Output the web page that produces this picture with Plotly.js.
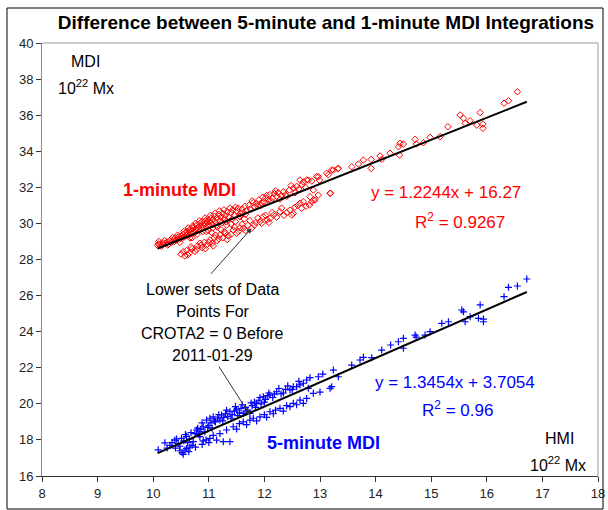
<!DOCTYPE html>
<html>
<head>
<meta charset="utf-8">
<script src="https://cdn.plot.ly/plotly-3.0.1.min.js"></script>
<style>html,body{margin:0;padding:0;background:#fff;}#chart{width:608px;height:510px;}</style>
</head>
<body>
<div id="chart"></div>
<script>
// ---- Data (HMI vs MDI, 10^22 Mx) ----
const oneMinHMI = [
10.09,10.08,10.12,10.15,10.18,10.22,10.25,10.28,10.30,10.33,10.36,10.38,10.40,10.42,10.45,10.47,10.50,10.52,10.54,10.56,
10.58,10.60,10.60,10.62,10.64,10.65,10.67,10.68,10.70,10.72,10.73,10.75,10.77,10.78,10.80,10.82,10.84,10.85,10.87,10.88,
10.90,10.92,10.94,10.95,10.97,10.98,11.00,11.02,11.04,11.06,11.08,11.10,11.12,11.15,11.18,11.20,11.22,11.25,11.28,11.30,
11.33,11.36,11.40,11.43,11.46,11.50,11.53,11.57,11.60,11.65,11.68,11.32,11.15,10.95,10.70,
10.10,10.20,10.26,10.35,10.44,10.48,10.55,10.63,10.66,10.71,10.76,10.79,10.83,10.89,10.93,10.99,11.03,11.07,11.11,11.14,
11.19,11.24,11.27,11.31,11.38,11.42,11.48,11.55,11.62,11.66,11.05,11.22,11.40,11.48,11.64,
11.72,11.75,11.80,11.82,11.86,11.90,11.93,11.97,12.00,12.04,12.07,12.10,12.14,12.18,12.22,12.25,12.30,12.34,12.38,12.45,
12.52,12.58,12.64,12.70,12.76,12.79,12.94,12.97,12.99,13.12,13.15,13.21,13.24,13.32,13.33,
11.78,11.88,11.95,12.02,12.12,12.20,12.28,12.40,12.48,12.55,12.62,12.68,12.74,12.85,
10.50,10.54,10.57,10.60,10.65,10.70,10.75,10.80,10.84,10.88,10.92,10.96,11.02,11.06,11.10,11.15,11.20,11.25,11.30,11.35,
11.44,11.50,11.56,11.56,11.62,11.70,11.77,11.85,11.92,11.98,12.05,12.10,12.18,12.28,12.35,12.46,12.49,12.55,12.64,12.67,
12.70,12.81,12.82,12.85,12.88,12.88,12.91,12.97,13.18,13.19,
10.62,10.68,10.78,10.86,10.94,11.00,11.08,11.12,11.18,11.28,11.33,11.40,11.46,11.53,11.60,11.66,11.74,11.82,11.88,11.95,
12.02,12.08,12.14,12.22,12.31,12.40,12.52,12.60,12.75,
13.57,13.69,13.78,13.92,13.92,14.08,14.11,14.26,14.41,14.43,14.44,14.50,14.71,14.73,14.86,14.98,15.16,15.30,15.52,15.58,
15.61,15.70,15.82,15.88,15.93,15.93,16.31,16.39,16.55];
const oneMinMDI = [
28.86,28.78,28.85,28.74,28.92,28.88,28.98,28.85,29.05,28.95,29.10,29.00,29.20,29.08,29.25,29.12,29.30,29.18,29.40,29.25,
29.45,29.32,29.55,29.40,29.60,29.35,29.50,29.70,29.45,29.60,29.80,29.50,29.70,29.90,29.60,29.80,30.00,29.65,29.85,30.10,
29.75,29.95,30.15,29.80,30.05,30.25,29.90,30.10,30.30,29.95,30.20,30.40,30.05,30.30,30.50,30.15,30.35,30.55,30.25,30.45,
30.65,30.35,30.60,30.75,30.45,30.70,30.85,30.55,30.80,30.95,30.70,29.91,29.80,29.55,29.20,
29.00,29.05,28.80,29.22,29.35,28.95,29.55,29.75,29.20,29.85,30.00,29.40,30.15,29.55,30.30,29.60,30.45,29.75,30.55,29.90,
30.70,30.05,30.75,30.10,30.85,30.25,30.90,30.40,30.60,30.50,29.50,29.65,29.95,30.10,30.25,
31.00,30.80,31.15,30.90,31.10,31.30,31.00,31.45,31.20,31.55,31.30,31.60,31.40,31.65,31.50,31.70,31.55,31.75,31.60,31.85,
31.95,32.05,32.40,32.30,32.41,32.40,32.60,32.59,32.40,32.78,32.70,32.96,32.96,33.03,33.05,
31.25,30.95,31.15,31.40,31.25,31.80,31.35,31.50,32.10,31.70,31.90,32.15,32.00,32.35,
28.30,28.43,28.20,28.50,28.35,28.60,28.45,28.75,28.90,28.65,28.95,28.80,29.08,28.90,29.20,29.05,29.36,29.20,29.45,29.30,
29.63,29.45,29.75,30.37,29.73,29.90,29.73,30.05,30.10,30.37,30.20,30.28,30.50,30.65,30.45,30.74,30.47,30.90,31.11,30.84,
31.20,31.02,31.48,31.20,31.30,31.85,31.30,31.57,31.67,31.67,
28.25,28.70,28.55,28.80,28.60,28.95,28.75,29.35,29.15,29.55,29.10,29.40,29.80,29.55,29.95,29.60,30.15,29.90,30.30,30.00,
30.45,30.05,30.60,30.35,30.85,30.60,30.55,31.00,30.95,
33.14,33.29,33.51,33.55,33.05,33.74,33.55,33.89,34.25,33.79,34.44,34.40,34.66,34.40,34.47,34.77,34.81,35.36,36.01,35.83,
35.55,35.69,35.45,36.14,35.51,35.27,36.66,36.80,37.30];

const fiveMinHMI = [
10.09,10.21,10.30,10.39,10.45,10.51,10.55,10.60,10.65,10.72,10.75,10.78,10.82,10.86,10.90,10.93,10.96,11.00,11.04,11.08,
11.12,11.16,11.20,11.23,11.27,11.30,11.34,11.38,11.42,11.46,11.50,11.55,11.58,11.62,11.66,11.70,11.74,11.78,11.82,11.86,
11.90,11.94,11.98,12.02,12.06,12.10,12.15,12.22,12.30,12.38,12.46,12.52,12.58,12.64,12.70,12.76,12.97,13.24,13.33,13.57,
13.72,13.78,13.93,14.11,14.27,14.41,14.50,14.50,14.71,14.73,14.89,14.98,15.19,15.31,15.55,15.58,15.61,15.70,15.85,15.88,
15.94,15.94,16.31,16.39,16.55,16.72,
10.25,10.34,10.42,10.48,10.58,10.62,10.68,10.80,10.84,10.88,10.98,11.02,11.06,11.10,11.18,11.25,11.32,11.40,11.48,11.52,
11.60,11.68,11.76,11.84,11.92,12.00,12.08,12.18,12.26,12.34,12.42,12.50,12.62,12.82,13.05,
10.40,10.48,10.52,10.57,10.60,10.66,10.70,10.84,10.90,10.95,11.02,11.08,11.14,11.26,11.38,11.32,11.44,11.55,11.62,11.74,
11.80,11.92,12.00,12.10,12.20,12.28,12.40,12.46,12.52,12.64,12.70,12.79,12.88,13.18,13.21,
10.54,10.64,10.76,10.88,11.00,11.20,11.50,11.68,11.86,12.04,12.16,12.34,12.58,12.76,13.00];
const fiveMinMDI = [
17.45,17.84,17.70,17.99,17.80,18.09,17.95,18.20,18.05,17.90,18.35,18.55,18.30,18.60,18.73,18.45,19.10,18.80,18.95,19.28,
19.00,19.20,19.10,19.38,19.25,19.45,19.30,19.56,19.40,19.60,19.66,19.50,19.75,19.47,19.80,19.65,19.47,19.90,20.10,20.03,
20.20,20.00,20.39,20.25,20.45,20.49,20.35,20.67,20.55,20.80,20.77,20.95,20.95,21.05,21.14,21.32,21.50,21.87,21.50,22.15,
22.43,22.58,22.56,22.98,23.26,23.44,23.63,23.08,23.81,23.70,23.81,24.00,24.46,24.55,25.20,25.10,24.55,24.83,24.74,25.48,
24.55,24.70,25.94,26.46,26.53,26.92,
17.55,17.85,18.05,17.65,18.30,17.85,18.40,18.65,18.45,18.95,18.70,19.20,18.65,19.05,19.40,19.05,19.65,19.20,19.85,19.35,
19.95,19.55,20.05,19.80,20.35,20.10,20.60,20.55,20.85,20.60,21.00,20.80,21.25,21.45,21.65,
17.55,17.40,17.30,17.44,17.53,17.60,17.70,18.18,17.95,18.00,18.09,18.25,17.99,17.90,17.90,18.55,18.73,18.90,19.00,19.10,
19.20,19.28,19.40,19.56,19.65,19.75,19.90,19.84,20.03,20.21,20.03,20.86,20.58,20.86,20.95,
17.20,17.35,17.60,17.75,17.85,18.35,18.60,18.85,19.05,19.25,19.45,19.60,19.95,20.30,20.65];

// Linear trend fits shown on the chart: [slope, intercept, R^2]
const oneMinFit = [1.2244, 16.27, 0.9267];
const fiveMinFit = [1.3454, 3.7054, 0.96];

const xTicks = [8,9,10,11,12,13,14,15,16,17,18];
const yTicks = [16,18,20,22,24,26,28,30,32,34,36,38,40];
const noteLines = ['Lower sets of Data', 'Points For', 'CROTA2 = 0 Before', '2011-01-29'];

// ---- Build ----
const allX = oneMinHMI.concat(fiveMinHMI);
const xMin = Math.min(...allX), xMax = Math.max(...allX);
const fitLine = f => ({x:[xMin,xMax], y:[f[0]*xMin+f[1], f[0]*xMax+f[1]]});
const FONT = 'Liberation Sans, Arial, sans-serif';

const traces = [
  {type:'scatter', mode:'markers', x:oneMinHMI, y:oneMinMDI, name:'1-minute MDI',
   marker:{symbol:'diamond-open', size:5, color:'#ff0000', line:{width:1, color:'#ff0000'}}},
  {type:'scatter', mode:'markers', x:fiveMinHMI, y:fiveMinMDI, name:'5-minute MDI',
   marker:{symbol:'cross-thin-open', size:5, color:'#0000ff', line:{width:1.2, color:'#0000ff'}}},
  Object.assign({type:'scatter', mode:'lines', line:{color:'#000', width:2}, hoverinfo:'skip'}, fitLine(oneMinFit)),
  Object.assign({type:'scatter', mode:'lines', line:{color:'#000', width:2}, hoverinfo:'skip'}, fitLine(fiveMinFit))
];

const eq = f => 'y = ' + f[0] + 'x + ' + f[1];
const r2 = f => 'R<sup>2</sup> = ' + f[2];

const ann = (text, x, y, size, color, bold) => ({
  text: bold ? '<b>'+text+'</b>' : text, x:x, y:y, xref:'x', yref:'y', showarrow:false,
  font:{family:FONT, size:size, color:color}, xanchor:'center', yanchor:'middle'
});

const noteY = [26.31, 25.14, 23.92, 22.70];
const annotations = [
  ann('MDI', 8.78, 38.95, 16, '#000'),
  ann('10<sup>22</sup> Mx', 8.8, 37.55, 16, '#000'),
  ann('1-minute MDI', 10.48, 31.85, 18, '#ff0000', true),
  ann(eq(oneMinFit), 15.27, 31.74, 17, '#ff0000'),
  ann(r2(oneMinFit), 15.52, 30.13, 17, '#ff0000'),
  ann(eq(fiveMinFit), 15.43, 21.21, 17, '#0000ff'),
  ann(r2(fiveMinFit), 15.47, 19.71, 17, '#0000ff'),
  ann('5-minute MDI', 13.06, 17.81, 18, '#0000ff', true),
  ann('HMI', 17.3, 18.1, 16, '#000'),
  ann('10<sup>22</sup> Mx', 17.28, 16.65, 16, '#000'),
  {x:11.77, y:29.73, xref:'x', yref:'y', text:'', showarrow:true, arrowhead:2, arrowsize:1, arrowwidth:1,
   arrowcolor:'#333', ax:-42, ay:47, standoff:0},
  {x:11.74, y:19.38, xref:'x', yref:'y', text:'', showarrow:true, arrowhead:2, arrowsize:1, arrowwidth:1,
   arrowcolor:'#333', ax:-32, ay:-50, standoff:0}
].concat(noteLines.map((t,i) => ann(t, 11.075, noteY[i], 16, '#000')));

const px2pxp = px => (px-42)/556, py2pyp = py => (476-py)/433;

const layout = {
  width:608, height:510,
  margin:{l:42, r:10, t:43, b:34, pad:0},
  paper_bgcolor:'#fff', plot_bgcolor:'#fff',
  font:{family:FONT, color:'#000'},
  showlegend:false,
  title:{text:'<b>Difference between 5-minute and 1-minute MDI Integrations</b>',
    font:{family:FONT, size:19, color:'#000'}, xref:'container', yref:'container',
    x:326/608, xanchor:'center', y:1-22/510, yanchor:'middle'},
  xaxis:{range:[8,18], tickvals:xTicks, ticktext:xTicks.map(String), ticks:'outside', ticklen:5,
    tickcolor:'#333', showline:true, linecolor:'#333', linewidth:1, showgrid:false, zeroline:false,
    tickfont:{family:FONT, size:13, color:'#222'}},
  yaxis:{range:[16,40], tickvals:yTicks, ticktext:yTicks.map(String), ticks:'outside', ticklen:5,
    tickcolor:'#333', showline:true, linecolor:'#888', linewidth:1, showgrid:false, zeroline:false,
    tickfont:{family:FONT, size:13, color:'#222'}},
  annotations:annotations,
  shapes:[
    {type:'line', xref:'paper', yref:'paper', x0:0, x1:1, y0:1, y1:1, line:{color:'#999', width:1}},
    {type:'line', xref:'paper', yref:'paper', x0:1, x1:1, y0:0, y1:1, line:{color:'#999', width:1}},
    {type:'rect', xref:'paper', yref:'paper', x0:px2pxp(7), x1:px2pxp(603), y0:py2pyp(509), y1:py2pyp(8),
     line:{color:'#000', width:1}, fillcolor:'rgba(0,0,0,0)'}
  ]
};

Plotly.newPlot('chart', traces, layout, {staticPlot:true, displayModeBar:false});
</script>
</body>
</html>
